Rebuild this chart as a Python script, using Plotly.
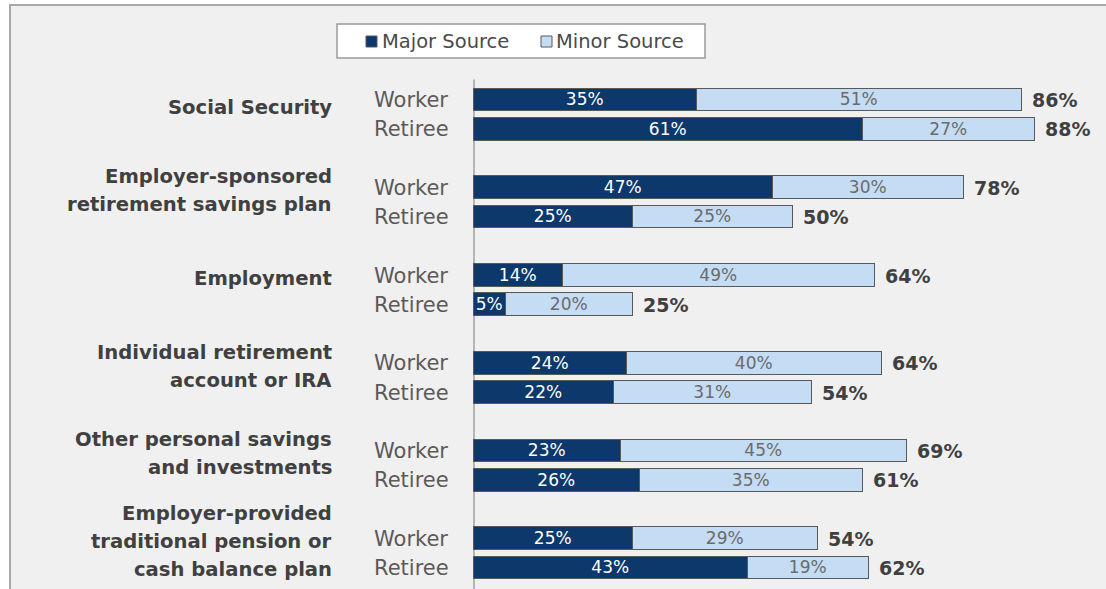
import plotly.graph_objects as go

# Survey data: share of workers / retirees naming each as a source of retirement income
categories = [
    "Social Security",
    "Employer-sponsored<br>retirement savings plan",
    "Employment",
    "Individual retirement<br>account or IRA",
    "Other personal savings<br>and investments",
    "Employer-provided<br>traditional pension or<br>cash balance plan",
]
groups = ["Worker", "Retiree"]

major_worker = [35, 47, 14, 24, 23, 25]
minor_worker = [51, 30, 49, 40, 45, 29]
total_worker = [86, 78, 64, 64, 69, 54]

major_retiree = [61, 25, 5, 22, 26, 43]
minor_retiree = [27, 25, 20, 31, 35, 19]
total_retiree = [88, 50, 25, 54, 61, 62]

series_names = ["Major Source", "Minor Source"]

NAVY = "#0c386c"
LIGHT = "#c5dcf5"
OUTLINE = "#595959"
FONT = "DejaVu Sans"

W, H = 1106, 589

# bar rows: worker and retiree for each category, one blank slot between categories
y_pos, major, minor, totals = [], [], [], []
for i in range(len(categories)):
    y_pos += [3 * i, 3 * i + 1]
    major += [major_worker[i], major_retiree[i]]
    minor += [minor_worker[i], minor_retiree[i]]
    totals += [total_worker[i], total_retiree[i]]

fig = go.Figure()
fig.add_trace(go.Bar(
    name=series_names[0], y=y_pos, x=major, orientation="h",
    marker=dict(color=NAVY, line=dict(color=OUTLINE, width=1.5)),
    width=0.78,
    texttemplate="%{x}%", textposition="inside", insidetextanchor="middle",
    textangle=0, textfont=dict(family=FONT, size=17, color="white"),
    hoverinfo="skip",
))
fig.add_trace(go.Bar(
    name=series_names[1], y=y_pos, x=minor, orientation="h",
    marker=dict(color=LIGHT, line=dict(color=OUTLINE, width=1.5)),
    width=0.78,
    texttemplate="%{x}%", textposition="inside", insidetextanchor="middle",
    textangle=0, textfont=dict(family=FONT, size=17, color="#6b6b6b"),
    hoverinfo="skip",
))

# pixel -> data mapping helpers for the fixed canvas
X0_PX, X_SCALE = 474, 6.37          # px of 0% and px per percent
Y0_PX, Y_SCALE = 100, 29.25         # px of first row and px per row slot

x_range = [-X0_PX / X_SCALE, (W - X0_PX) / X_SCALE]
y_range = [(H - Y0_PX) / Y_SCALE, -Y0_PX / Y_SCALE]

def px_x(p):
    return p / W

def px_y(p):
    return 1 - p / H

annotations = []

# total labels at bar ends
for yy, a, b, t in zip(y_pos, major, minor, totals):
    annotations.append(dict(
        x=a + b, y=yy, xref="x", yref="y", text=f"<b>{t}%</b>",
        showarrow=False, xanchor="left", yanchor="middle", xshift=8,
        font=dict(family=FONT, size=19, color="#404040"),
    ))

# worker / retiree row labels
for yy in range(len(categories)):
    for k, g in enumerate(groups):
        annotations.append(dict(
            x=px_x(372), y=3 * yy + k, xref="paper", yref="y", text=g,
            showarrow=False, xanchor="left", yanchor="middle",
            font=dict(family=FONT, size=21, color="#5a5a5a"),
        ))

# category labels, one annotation per line for tighter control of spacing
LINE_GAP = 28 / Y_SCALE
for i, cat in enumerate(categories):
    lines = cat.split("<br>")
    n = len(lines)
    centre = 3 * i + (0.25 if n == 1 and i == 0 else 0.1)
    for k, ln in enumerate(lines):
        annotations.append(dict(
            x=px_x(334), y=centre + (k - (n - 1) / 2) * LINE_GAP,
            xref="paper", yref="y", text=f"<b>{ln}</b>",
            showarrow=False, xanchor="right", yanchor="middle",
            font=dict(family=FONT, size=19.6, color="#404040"),
        ))

# legend entries
legend_items = [(366, 380, NAVY, series_names[0]), (541, 554, LIGHT, series_names[1])]
shapes = [
    # chart panel
    dict(type="rect", xref="paper", yref="paper",
         x0=px_x(10), x1=1.02, y0=-0.02, y1=px_y(5),
         fillcolor="#f0f0f0", line=dict(color="#a8a8a8", width=2), layer="below"),
    # zero axis line
    dict(type="line", xref="x", yref="y", x0=0, x1=0, y0=-0.7, y1=17,
         line=dict(color="#a0a0a0", width=1.5), layer="below"),
    # legend box
    dict(type="rect", xref="paper", yref="paper",
         x0=px_x(337), x1=px_x(705), y0=px_y(58), y1=px_y(24),
         fillcolor="white", line=dict(color="#9a9a9a", width=1.5)),
]
for sq_x, tx_x, col, name in legend_items:
    shapes.append(dict(type="rect", xref="paper", yref="paper",
                       x0=px_x(sq_x), x1=px_x(sq_x + 11), y0=px_y(47), y1=px_y(36),
                       fillcolor=col, line=dict(color=OUTLINE, width=1)))
    annotations.append(dict(
        x=px_x(tx_x), y=px_y(41.5), xref="paper", yref="paper", text=name,
        showarrow=False, xanchor="left", yanchor="middle",
        font=dict(family=FONT, size=19.5, color="#4a4a4a"),
    ))

fig.update_layout(
    width=W, height=H,
    margin=dict(l=0, r=0, t=0, b=0),
    barmode="stack", bargap=0,
    showlegend=False,
    paper_bgcolor="white", plot_bgcolor="rgba(0,0,0,0)",
    uniformtext=dict(minsize=17, mode="show"),
    xaxis=dict(range=x_range, visible=False, fixedrange=True),
    yaxis=dict(range=y_range, visible=False, fixedrange=True),
    shapes=shapes, annotations=annotations,
)

fig.write_html("out.html")
